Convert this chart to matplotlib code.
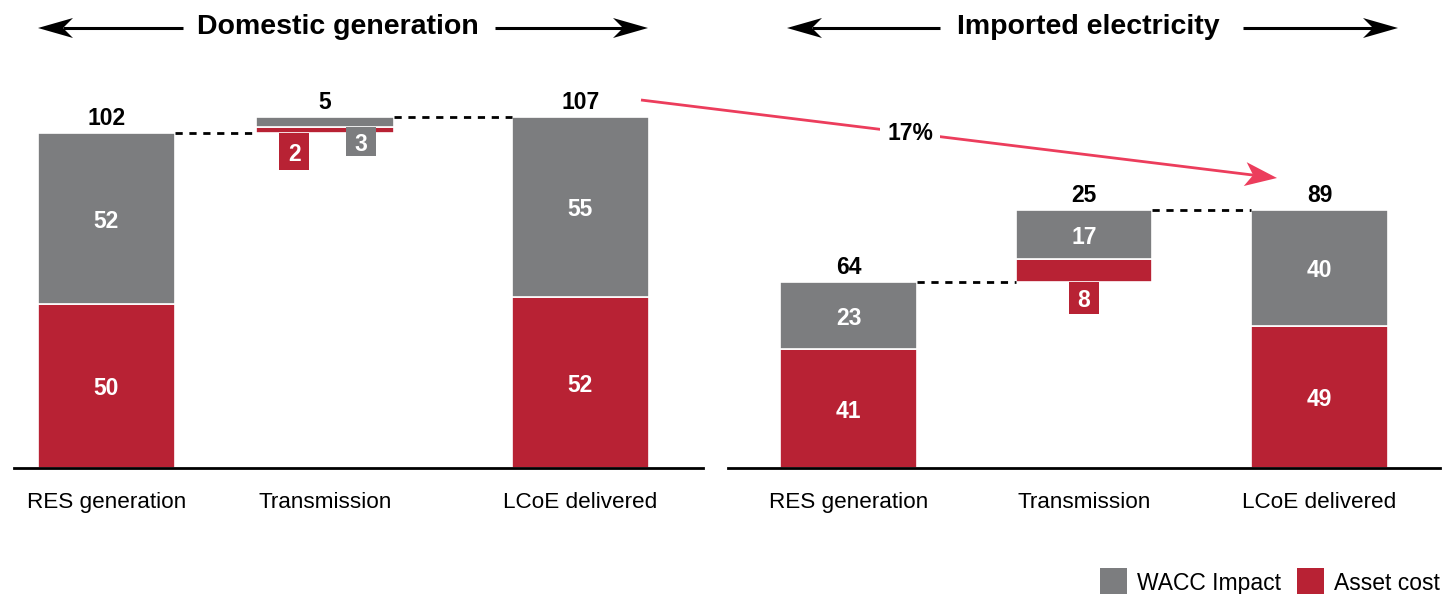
import numpy as np
import matplotlib
matplotlib.use('Agg')
import matplotlib.pyplot as plt
from matplotlib.patches import Polygon, Rectangle
from matplotlib.lines import Line2D

plt.rcParams['font.family'] = ['Liberation Sans', 'DejaVu Sans']

W, H = 1456, 594
GREY = '#7c7d7f'
RED = '#b82234'
PINK = '#ec3d5c'

categories = ['RES generation', 'Transmission', 'LCoE delivered']

dom_asset = [50, 2, 52]
dom_wacc = [52, 3, 55]
dom_total = [102, 5, 107]

imp_asset = [41, 8, 49]
imp_wacc = [23, 17, 40]
imp_total = [64, 25, 89]

headers = ['Domestic generation', 'Imported electricity']
increase_label = '17%'
legend_labels = ['WACC Impact', 'Asset cost']

fig = plt.figure(figsize=(W / 100, H / 100), dpi=100)


def px(x, y):
    # pixel position (top-left origin) -> figure fraction
    return x / W, 1 - y / H


def fig_arrow(tail, tip, color, lw, head_len, head_w, notch):
    t0 = np.array(tail, float)
    t1 = np.array(tip, float)
    u = (t1 - t0) / np.hypot(*(t1 - t0))
    n = np.array([-u[1], u[0]])
    back = t1 - u * head_len
    nb = t1 - u * (head_len - notch)
    fig.add_artist(Line2D([t0[0] / W, nb[0] / W], [1 - t0[1] / H, 1 - nb[1] / H],
                          color=color, lw=lw, solid_capstyle='butt'))
    pts = [t1, back + n * head_w, nb, back - n * head_w]
    fig.add_artist(Polygon([px(*p) for p in pts], closed=True,
                           facecolor=color, edgecolor='none'))


def panel(ax, asset, wacc, total, xpos, ymax, boxes):
    bw = 0.58
    lab = dict(color='white', fontsize=16.5, fontweight='bold',
               ha='center', va='center_baseline')
    top = dict(color='black', fontsize=16.5, fontweight='bold',
               ha='center', va='baseline', textcoords='offset points',
               xytext=(0, 6))
    # full stacked bars
    for i in (0, 2):
        ax.bar(xpos[i], asset[i], bw, color=RED, edgecolor='white', lw=1.2)
        ax.bar(xpos[i], wacc[i], bw, bottom=asset[i], color=GREY,
               edgecolor='white', lw=1.2)
        ax.text(xpos[i], asset[i] / 2, str(asset[i]), **lab)
        ax.text(xpos[i], asset[i] + wacc[i] / 2, str(wacc[i]), **lab)
        ax.annotate(str(total[i]), (xpos[i], asset[i] + wacc[i]), **top)

    # floating transmission step
    b = total[0]
    ax.bar(xpos[1], asset[1], bw, bottom=b, color=RED, edgecolor='white', lw=1.2)
    ax.bar(xpos[1], wacc[1], bw, bottom=b + asset[1], color=GREY,
           edgecolor='white', lw=1.2)
    ax.annotate(str(total[1]), (xpos[1], b + asset[1] + wacc[1]), **top)
    seg = {'asset': (b, asset[1], RED), 'wacc': (b + asset[1], wacc[1], GREY)}
    for key in seg:
        start, val, col = seg[key]
        if key in boxes:
            dx, h = boxes[key]
            ax.bar(xpos[1] + dx, h, 0.128, bottom=start - h, color=col, zorder=3)
            ax.text(xpos[1] + dx, start - h / 2, str(val), zorder=4, **lab)
        else:
            ax.text(xpos[1], start + val / 2, str(val), **lab)

    # dashed connectors
    dash = dict(color='black', lw=2, dashes=(2.6, 2.4))
    ax.plot([xpos[0] + bw / 2, xpos[1] - bw / 2], [total[0]] * 2, **dash)
    ax.plot([xpos[1] + bw / 2, xpos[2] - bw / 2], [total[0] + total[1]] * 2, **dash)

    ax.set_ylim(0, ymax)
    ax.set_xticks(xpos, categories)
    ax.tick_params(axis='x', length=0, pad=17, labelsize=16.2)
    ax.set_yticks([])
    for s in ('top', 'left', 'right'):
        ax.spines[s].set_visible(False)
    ax.spines['bottom'].set_linewidth(2)
    ax.patch.set_visible(False)


ax1 = fig.add_axes([14 / W, (H - 468) / H, (703 - 14) / W, (468 - 60) / H])
ax1.set_xlim(-0.39, 2.517)
panel(ax1, dom_asset, dom_wacc, dom_total, [0, 0.922, 2], 124.4,
      {'asset': (-0.13, 11), 'wacc': (0.152, 9)})

ax2 = fig.add_axes([728 / W, (H - 468) / H, (1440 - 728) / W, (468 - 60) / H])
ax2.set_xlim(-0.512, 2.512)
panel(ax2, imp_asset, imp_wacc, imp_total, [0, 1, 2], 140.7,
      {'asset': (0.0, 11)})

# section headers with double arrows
for (cx, a0, a1, b0, b1), txt in zip([(338, 38, 183, 495, 648),
                                      (1088, 787, 940, 1243, 1398)], headers):
    fig.text(*px(cx, 27), txt, fontsize=20.5, fontweight='bold',
             ha='center', va='center')
    fig_arrow((a1, 28), (a0, 28), 'black', 2.2, 35, 10, 10)
    fig_arrow((b0, 28), (b1, 28), 'black', 2.2, 35, 10, 10)

# change arrow between the two delivered costs
fig_arrow((641, 100), (1277, 178), PINK, 2, 32, 12, 8)
fig.text(*px(910, 133), increase_label, fontsize=16.5, fontweight='bold',
         ha='center', va='center',
         bbox=dict(facecolor='white', edgecolor='none', pad=5))

# legend
for (x, col), txt in zip([(1100, GREY), (1297, RED)], legend_labels):
    fig.add_artist(Rectangle(px(x, 595), 27 / W, 27 / H,
                             facecolor=col, edgecolor='none'))
    fig.text(*px(x + 37, 590), txt, fontsize=16.5, ha='left', va='baseline')

fig.savefig('out.png', dpi=100)
